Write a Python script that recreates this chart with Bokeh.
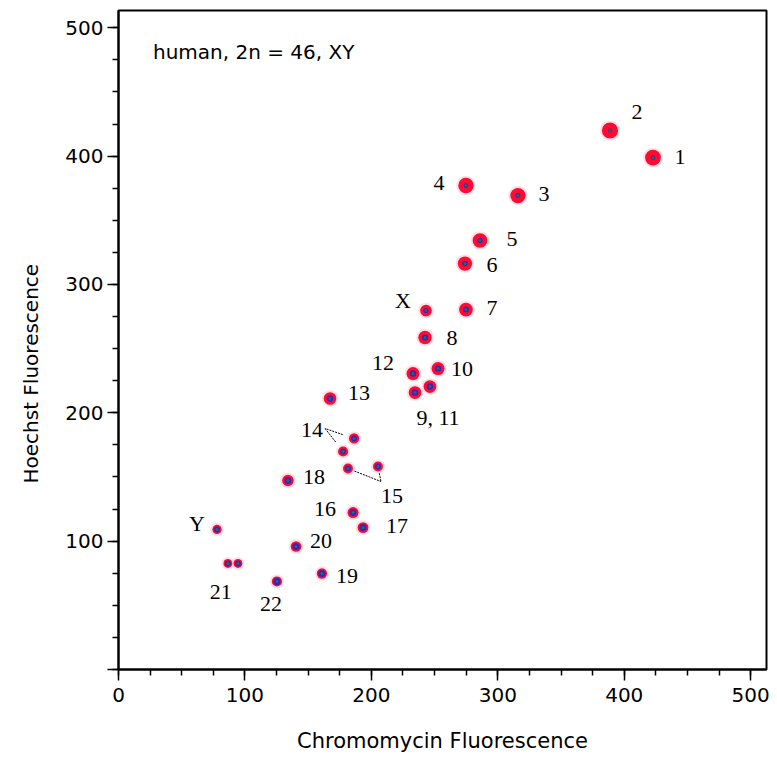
import math

from bokeh.core.properties import value
from bokeh.embed import file_html
from bokeh.models import ColumnDataSource, Label, Range1d, SingleIntervalTicker, Title
from bokeh.plotting import figure
from bokeh.resources import INLINE

# Bivariate flow karyotype: one entry per resolved chromosome peak
peak_chrom = ["1", "2", "3", "4", "5", "6", "7", "X", "8", "9", "10", "11", "12",
              "13", "14", "14", "15", "15", "16", "17", "18", "19", "20", "21", "21",
              "22", "Y"]
chromomycin = [422.7, 388.7, 315.9, 274.8, 285.9, 274.0, 274.8, 243.2, 242.4, 234.5,
               252.7, 246.3, 232.9, 167.3, 186.3, 177.6, 181.5, 205.2, 185.5, 193.4,
               134.0, 160.9, 140.4, 86.5, 94.5, 125.3, 77.9]
hoechst = [398.9, 420.0, 369.3, 377.1, 334.3, 316.3, 280.5, 279.7, 258.7, 215.8,
           234.5, 220.5, 230.6, 211.2, 180.0, 169.9, 156.6, 158.2, 122.3, 110.6,
           147.3, 74.8, 95.8, 82.6, 82.6, 68.6, 109.1]
# homologues contributing to each peak
copies = [2, 2, 2, 2, 2, 2, 2, 1, 2, 2, 2, 2, 2, 2, 1, 1, 1, 1, 2, 2, 2, 2, 2, 1, 1, 2, 1]

# peak labels and the chromosome peak each one is attached to
label_text = ["1", "2", "3", "4", "5", "6", "7", "X", "8", "9, 11", "10", "12", "13",
              "14", "15", "16", "17", "18", "19", "20", "21", "22", "Y"]
label_anchor = ["1", "2", "3", "4", "5", "6", "7", "X", "8", "9", "10", "12", "13",
                "14", "15", "16", "17", "18", "19", "20", "21", "22", "Y"]

x_title = "Chromomycin Fluorescence"
y_title = "Hoechst Fluorescence"
sample_note = "human, 2n = 46, XY"

# ---- layout -------------------------------------------------------------
FRAME_W, FRAME_H = 648, 659
X_END, Y_END = 512.5, 513.5
PX_X = FRAME_W / X_END   # screen pixels per data unit
PX_Y = FRAME_H / Y_END

# label placement, screen pixels from the anchor peak (x right, y down)
label_shift = {
    "1": (27, -1), "2": (27, -18), "3": (26, -2), "4": (-27, -3), "5": (32, -1),
    "6": (27, 1), "7": (26, -2), "X": (-23, -10), "8": (27, 1), "9, 11": (23, 25),
    "10": (24, 0), "12": (-30, -11), "13": (29, -5), "14": (-42, -8), "15": (44, 27),
    "16": (-28, -4), "17": (34, -2), "18": (26, -3), "19": (25, 2), "20": (25, -6),
    "21": (-7, 29), "22": (-6, 23), "Y": (-20, -6),
}
# leader lines: label-side point (px from label centre) and gap left at the peak
leaders = {"14": ((13, -2), 12), "15": ((-11, -14), 7)}

p = figure(frame_width=FRAME_W, frame_height=FRAME_H,
           x_range=Range1d(0, X_END), y_range=Range1d(0, Y_END),
           output_backend="svg", toolbar_location=None,
           min_border_left=118, min_border_right=11,
           min_border_top=10, min_border_bottom=89)
p.grid.visible = False
p.background_fill_color = "white"
p.border_fill_color = "white"
p.outline_line_color = "black"
p.outline_line_width = 2

for ax in (p.xaxis[0], p.yaxis[0]):
    ax.ticker = SingleIntervalTicker(interval=100, num_minor_ticks=4)
    ax.axis_line_width = 2
    ax.axis_line_color = "black"
    ax.major_tick_line_width = 1.5
    ax.minor_tick_line_width = 1.5
    ax.major_tick_line_color = "black"
    ax.minor_tick_line_color = "black"
    ax.major_tick_in = 0
    ax.major_tick_out = 11
    ax.minor_tick_in = 0
    ax.minor_tick_out = 6
    ax.major_label_text_font = "DejaVu Sans"
    ax.major_label_text_font_size = "20px"
    ax.major_label_text_color = "black"

p.xaxis.major_label_standoff = 7
p.xaxis.axis_label = x_title
p.xaxis.axis_label_text_font = "DejaVu Sans"
p.xaxis.axis_label_text_font_size = "21px"
p.xaxis.axis_label_text_font_style = "normal"
p.xaxis.axis_label_text_color = "black"
p.xaxis.axis_label_standoff = 24

p.yaxis.major_label_standoff = 4
p.yaxis.major_label_overrides = {0: ""}

# vertical axis title, set a little below the middle of the frame
p.add_layout(Title(text=y_title, align="left", offset=186, vertical_align="top",
                   standoff=36, text_font="DejaVu Sans", text_font_size="20px",
                   text_font_style="normal", text_color="black"), "left")

p.add_layout(Label(x=27.3, y=481.5, text=sample_note, text_align="left",
                   text_baseline="alphabetic", text_font="DejaVu Sans",
                   text_font_size="20px", text_color="black"))

# ---- peaks -----------------------------------------------------------------
# spot size grows with DNA content; single-homologue peaks are dimmer and smaller
size = [(9 + 0.017 * h) * (1.0 if c == 2 else 0.85) for h, c in zip(hoechst, copies)]
# small chromosomes show a larger blue (Hoechst-rich) core
core = [s * (0.8 - 0.0013 * h) for s, h in zip(size, hoechst)]
peaks = ColumnDataSource(dict(
    x=chromomycin, y=hoechst, size=size, halo=[s + 4 for s in size], core=core,
))
p.scatter("x", "y", size="halo", source=peaks, marker="circle",
          fill_color="#ff6f8c", fill_alpha=0.22, line_color=None)
p.scatter("x", "y", size="size", source=peaks, marker="circle",
          fill_color="#ff0a33", line_color=None)
p.scatter("x", "y", size="core", source=peaks, marker="circle",
          fill_color="#2a24c8", fill_alpha=0.9, line_color=None)
p.scatter("x", "y", size=3, source=peaks, marker="circle",
          fill_color="#1f7f3f", fill_alpha=0.8, line_color=None)

# ---- labels ------------------------------------------------------------------
lx, ly, ldx, ldy = [], [], [], []
for txt, anc in zip(label_text, label_anchor):
    i = peak_chrom.index(anc)
    lx.append(chromomycin[i])
    ly.append(hoechst[i])
    dx, dy = label_shift[txt]
    ldx.append(dx)
    ldy.append(dy)
labels = ColumnDataSource(dict(x=lx, y=ly, text=label_text, dx=ldx, dy=ldy))
p.text("x", "y", text="text", x_offset="dx", y_offset="dy", source=labels,
       text_font=value("Liberation Serif"), text_font_size="22px",
       text_align="center", text_baseline="middle", text_color="black")

# leader lines from a label to each of its peaks
x0, y0, x1, y1 = [], [], [], []
for txt, ((ox, oy), gap) in leaders.items():
    k = label_text.index(txt)
    a = peak_chrom.index(label_anchor[k])
    lab_sx = chromomycin[a] * PX_X + label_shift[txt][0] + ox
    lab_sy = -hoechst[a] * PX_Y + label_shift[txt][1] + oy
    for i, c in enumerate(peak_chrom):
        if c != txt:
            continue
        px, py = chromomycin[i] * PX_X, -hoechst[i] * PX_Y
        vx, vy = lab_sx - px, lab_sy - py
        d = math.hypot(vx, vy)
        sx, sy = px + vx / d * gap, py + vy / d * gap
        x0.append(sx / PX_X)
        y0.append(-sy / PX_Y)
        x1.append(lab_sx / PX_X)
        y1.append(-lab_sy / PX_Y)
p.segment(x0, y0, x1, y1, line_color="black", line_width=1, line_dash="2 1")

open("out.html", "w").write(file_html(p, INLINE))
